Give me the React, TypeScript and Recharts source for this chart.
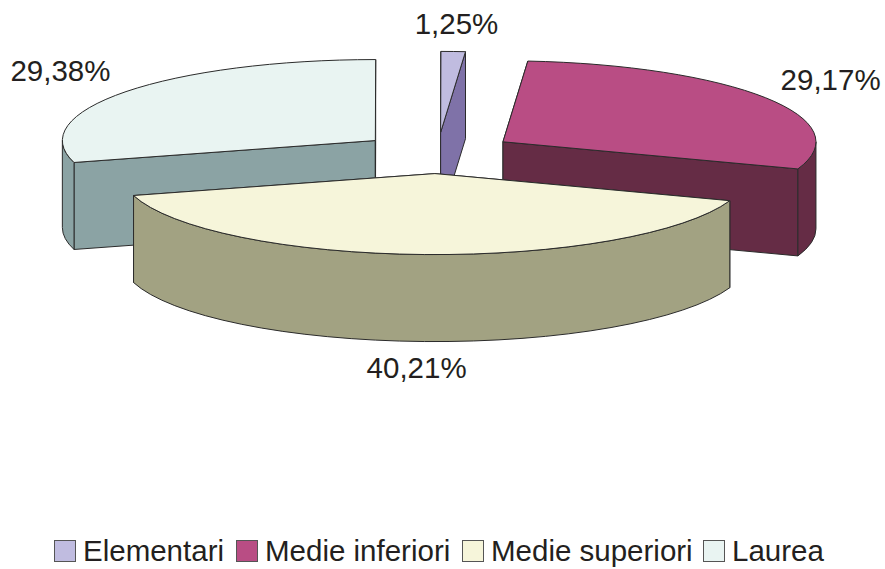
import React from 'react';
import { PieChart, Pie, Legend } from 'recharts';

const categories = ['Elementari', 'Medie inferiori', 'Medie superiori', 'Laurea'];
const shares = [1.25, 29.17, 40.21, 29.38];
const shareLabels = ['1,25%', '29,17%', '40,21%', '29,38%'];
const topColors = ['#c0bce0', '#b94d84', '#f6f5da', '#e9f4f2'];
const sideColors = ['#7f72a8', '#652c45', '#a2a282', '#8ba3a4'];

// painter's order: Laurea goes first so the front slice can cover it
const drawOrder = [3, 0, 1, 2];

const CX = 437.5;
const CY = 153;
const RX = 313;
const RY = 81;
const EXPLODE = 78;
const DEPTH = 87;
const LABEL_R = 472;
const FONT = '"Liberation Sans", Arial, sans-serif';

// small hand nudges for the percent labels, by label text
const labelNudge: Record<string, [number, number]> = {
  '1,25%': [0, 0],
  '29,17%': [-3, -1],
  '40,21%': [-5, -2],
  '29,38%': [-1, -2],
};

const pieData = drawOrder.map((i) => ({
  name: categories[i],
  value: shares[i],
  fill: topColors[i],
  side: sideColors[i],
  label: shareLabels[i],
}));

// recharts angles run counter-clockwise from 3 o'clock, here clockwise from 12
const toClock = (a: number) => 90 - a;

const Slice3D = (props: any) => {
  const { startAngle, endAngle, fill, stroke } = props;
  const side = props.side ?? props.payload?.side;
  const a0 = toClock(startAngle);
  const a1 = toClock(endAngle);
  const mid = (((a0 + a1) / 2) * Math.PI) / 180;
  const ox = CX + EXPLODE * Math.sin(mid);
  const oy = CY - EXPLODE * 0.264 * Math.cos(mid);
  const pt = (deg: number, dy = 0) => {
    const r = (deg * Math.PI) / 180;
    return [ox + RX * Math.sin(r), oy - RY * Math.cos(r) + dy].map((n) => n.toFixed(2)).join(' ');
  };
  const apex = `${ox.toFixed(2)} ${oy.toFixed(2)}`;
  const apexLow = `${ox.toFixed(2)} ${(oy + DEPTH).toFixed(2)}`;
  const large = a1 - a0 > 180 ? 1 : 0;

  // outer rim only shows on the front half of the ellipse, 6 o'clock at 180
  const walls: { from: number; to: number }[] = [];
  for (const base of [90, 450]) {
    const from = Math.max(a0, base);
    const to = Math.min(a1, base + 180);
    if (to > from) walls.push({ from, to });
  }

  const line = { stroke: stroke ?? '#2b2b2b', strokeWidth: 1, strokeLinejoin: 'round' as const };
  return (
    <g>
      <path d={`M${apex} L${pt(a0)} L${pt(a0, DEPTH)} L${apexLow} Z`} fill={side} {...line} />
      <path d={`M${apex} L${pt(a1)} L${pt(a1, DEPTH)} L${apexLow} Z`} fill={side} {...line} />
      {walls.map((w) => (
        <path
          key={w.from}
          d={`M${pt(w.from)} A${RX} ${RY} 0 0 1 ${pt(w.to)} L${pt(w.to, DEPTH)} A${RX} ${RY} 0 0 0 ${pt(w.from, DEPTH)} Z`}
          fill={side}
          {...line}
        />
      ))}
      <path d={`M${apex} L${pt(a0)} A${RX} ${RY} 0 ${large} 1 ${pt(a1)} Z`} fill={fill} {...line} />
    </g>
  );
};

const renderLabel = (props: any) => {
  const text = props.label ?? props.payload?.label;
  const a = (toClock(props.midAngle) * Math.PI) / 180;
  const nudge = labelNudge[text] ?? [0, 0];
  const x = CX + LABEL_R * Math.sin(a) + nudge[0];
  let y = CY - LABEL_R * 0.264 * Math.cos(a) + nudge[1];
  // front labels sit under the rim, the others a little higher
  y += Math.cos(a) < 0 ? DEPTH + 5 : -5;
  return (
    <text x={x} y={y} textAnchor="middle" dominantBaseline="central" fontSize={29.5} fontFamily={FONT} fill="#231f20">
      {text}
    </text>
  );
};

const legendLefts = [54, 236, 462, 703];

const LegendRow = () => (
  <div style={{ position: 'relative', width: 885, height: 30 }}>
    {categories.map((c, i) => (
      <div key={c} style={{ position: 'absolute', left: legendLefts[i], top: 0, display: 'flex', alignItems: 'center', whiteSpace: 'nowrap' }}>
        <span style={{ width: 20, height: 20, background: topColors[i], border: '1px solid #555', marginRight: 7 }} />
        <span style={{ fontFamily: FONT, fontSize: 29.5, lineHeight: '30px', color: '#231f20' }}>{c}</span>
      </div>
    ))}
  </div>
);

export default function App() {
  return (
    <div style={{ position: 'absolute', left: 0, top: 0, background: '#fff' }}>
      <PieChart width={885} height={569} margin={{ top: 0, right: 0, bottom: 0, left: 0 }}>
        <Pie
          data={pieData}
          dataKey="value"
          nameKey="name"
          cx={CX}
          cy={CY}
          outerRadius={RX}
          startAngle={-164.3}
          endAngle={-524.3}
          shape={Slice3D}
          label={renderLabel}
          labelLine={false}
          stroke="#2b2b2b"
          isAnimationActive={false}
        />
        <Legend
          content={<LegendRow />}
          layout="horizontal"
          verticalAlign="bottom"
          wrapperStyle={{ left: 0, top: 536, width: 885, height: 30 }}
        />
      </PieChart>
    </div>
  );
}
